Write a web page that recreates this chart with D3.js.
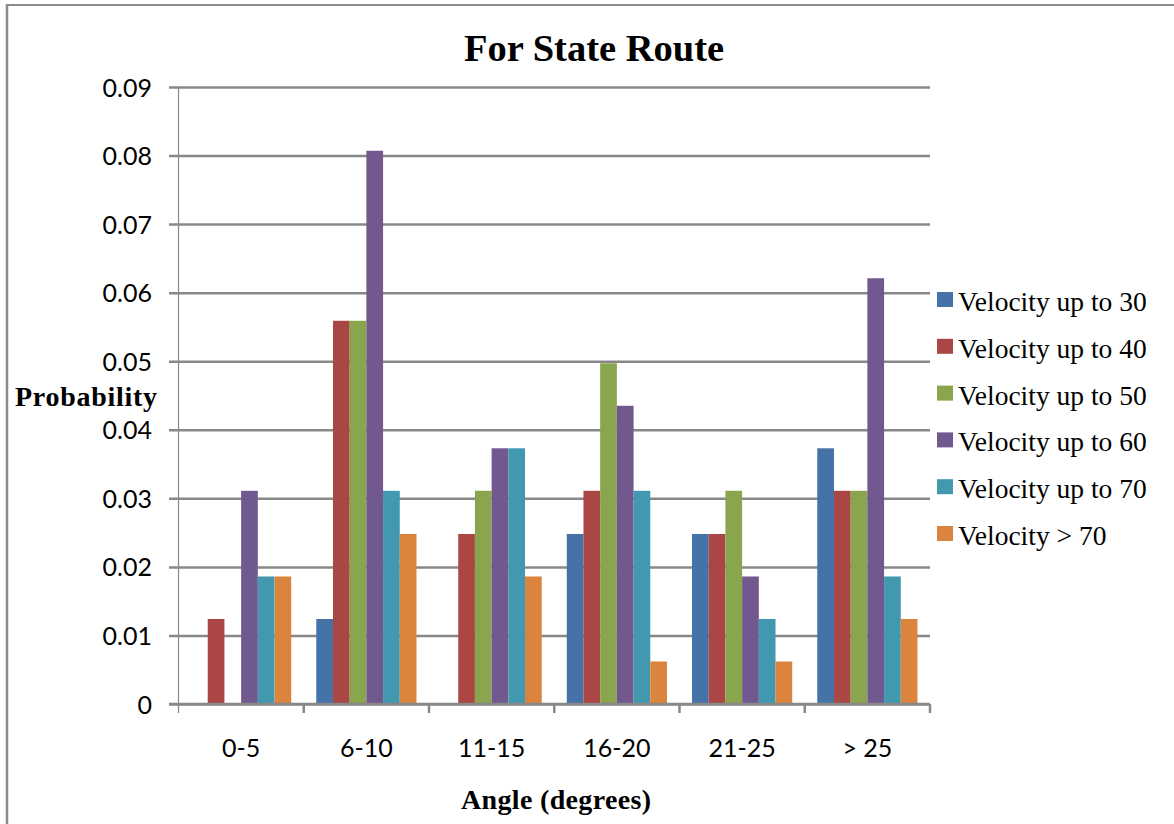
<!DOCTYPE html>
<html>
<head>
<meta charset="utf-8">
<script src="https://cdn.jsdelivr.net/npm/d3@7"></script>
<style>
  html, body { margin: 0; padding: 0; background: #fff; }
  svg { display: block; }
</style>
</head>
<body>
<svg id="chart" width="1174" height="824"></svg>
<script>
// Angle bins on the x axis
const categories = ["0-5", "6-10", "11-15", "16-20", "21-25", "> 25"];

// Velocity classes (legend order)
const seriesNames = [
  "Velocity up to 30",
  "Velocity up to 40",
  "Velocity up to 50",
  "Velocity up to 60",
  "Velocity up to 70",
  "Velocity > 70"
];

// Probability per angle bin, one array per velocity class
const velUpTo30 = [0,      0.0124, 0,      0.0248, 0.0248, 0.0373];
const velUpTo40 = [0.0124, 0.0559, 0.0248, 0.0311, 0.0248, 0.0311];
const velUpTo50 = [0,      0.0559, 0.0311, 0.0497, 0.0311, 0.0311];
const velUpTo60 = [0.0311, 0.0807, 0.0373, 0.0435, 0.0186, 0.0621];
const velUpTo70 = [0.0186, 0.0311, 0.0373, 0.0311, 0.0124, 0.0186];
const velOver70 = [0.0186, 0.0248, 0.0186, 0.0062, 0.0062, 0.0124];

const seriesValues = [velUpTo30, velUpTo40, velUpTo50, velUpTo60, velUpTo70, velOver70];

const yTicks = [0, 0.01, 0.02, 0.03, 0.04, 0.05, 0.06, 0.07, 0.08, 0.09];
const yTickLabels = ["0", "0.01", "0.02", "0.03", "0.04", "0.05", "0.06", "0.07", "0.08", "0.09"];

const colors = ["#4572A7", "#AA4643", "#89A54E", "#71588F", "#4198AF", "#DB843D"];

const svg = d3.select("#chart");
const gridColor = "#888888";
const sans = "Lato, 'Open Sans', sans-serif";
const serif = "'Liberation Serif', 'Times New Roman', serif";

// Outer frame (left and top edges)
svg.append("line").attr("x1", 7).attr("x2", 7).attr("y1", 4).attr("y2", 824)
  .attr("stroke", "#8c8c8c").attr("stroke-width", 2.5);
svg.append("line").attr("x1", 6).attr("x2", 1174).attr("y1", 5).attr("y2", 5)
  .attr("stroke", "#8c8c8c").attr("stroke-width", 2);

// Plot geometry
const plotLeft = 178.5, plotRight = 930, plotTop = 87, plotBottom = 704;

const x = d3.scaleBand().domain(categories).range([plotLeft, plotRight]).paddingInner(0).paddingOuter(0);
const xInner = d3.scaleBand().domain(seriesNames).range([0, x.bandwidth()]).paddingInner(0).paddingOuter(0.75);
const y = d3.scaleLinear().domain([0, 0.09]).range([plotBottom, plotTop]);

// Horizontal gridlines and y tick labels
const yAxis = d3.axisLeft(y)
  .tickValues(yTicks)
  .tickFormat((d, i) => yTickLabels[i])
  .tickSizeInner(-(plotRight - 169))
  .tickSizeOuter(0)
  .tickPadding(17);

const gy = svg.append("g").attr("transform", "translate(169,0)").call(yAxis);
gy.select(".domain").remove();
gy.selectAll(".tick line").attr("stroke", gridColor).attr("stroke-width", 2.5);
gy.selectAll(".tick text")
  .attr("font-family", sans).attr("font-size", 25).attr("fill", "#000")
  .attr("dy", "0.36em");

// Bars
const groups = svg.append("g").selectAll("g")
  .data(seriesNames)
  .join("g")
  .attr("fill", (d, i) => colors[i]);

groups.selectAll("rect")
  .data((s, si) => categories.map((c, ci) => ({ c, s, v: seriesValues[si][ci] })))
  .join("rect")
  .attr("x", d => x(d.c) + xInner(d.s))
  .attr("width", xInner.bandwidth())
  .attr("y", d => y(d.v))
  .attr("height", d => y(0) - y(d.v));

// Re-draw the baseline on top of the bars
svg.append("line").attr("x1", 169).attr("x2", plotRight).attr("y1", y(0)).attr("y2", y(0))
  .attr("stroke", gridColor).attr("stroke-width", 2.5);

// Vertical axis line
svg.append("line").attr("x1", plotLeft).attr("x2", plotLeft).attr("y1", plotTop).attr("y2", 713)
  .attr("stroke", gridColor).attr("stroke-width", 1.2);

// Category boundary tick marks
svg.append("g").selectAll("line")
  .data(categories)
  .join("line")
  .attr("x1", d => x(d) + x.bandwidth())
  .attr("x2", d => x(d) + x.bandwidth())
  .attr("y1", plotBottom)
  .attr("y2", 713)
  .attr("stroke", gridColor).attr("stroke-width", 2.5);

// Category labels
const xAxis = d3.axisBottom(x).tickSize(0).tickPadding(0);
const gx = svg.append("g").attr("transform", `translate(0,${plotBottom})`).call(xAxis);
gx.select(".domain").remove();
gx.selectAll(".tick text")
  .attr("font-family", sans).attr("font-size", 25).attr("fill", "#000")
  .attr("y", 53).attr("dy", 0);

// Title
svg.append("text").attr("x", 594).attr("y", 61).attr("text-anchor", "middle")
  .attr("font-family", serif).attr("font-weight", "bold").attr("font-size", 38.5)
  .attr("fill", "#000").text("For State Route");

// Axis titles
svg.append("text").attr("x", 15).attr("y", 406)
  .attr("font-family", serif).attr("font-weight", "bold").attr("font-size", 28)
  .attr("textLength", 142).attr("lengthAdjust", "spacing")
  .attr("fill", "#000").text("Probability");

svg.append("text").attr("x", 556).attr("y", 809).attr("text-anchor", "middle")
  .attr("font-family", serif).attr("font-weight", "bold").attr("font-size", 28)
  .attr("textLength", 190).attr("lengthAdjust", "spacing")
  .attr("fill", "#000").text("Angle (degrees)");

// Legend
const legend = svg.append("g").selectAll("g")
  .data(seriesNames)
  .join("g")
  .attr("transform", (d, i) => `translate(937,${292 + i * 46.8})`);

legend.append("rect").attr("width", 16).attr("height", 15).attr("fill", (d, i) => colors[i]);
legend.append("text").attr("x", 21).attr("y", 19)
  .attr("font-family", serif).attr("font-size", 27.5).attr("fill", "#000")
  .text(d => d);
</script>
</body>
</html>
